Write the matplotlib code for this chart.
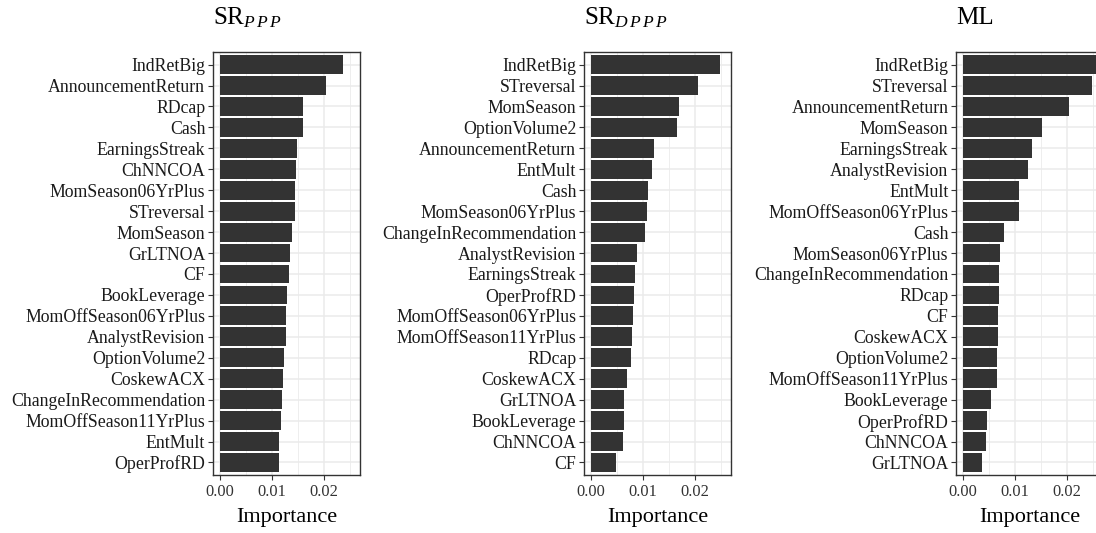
import matplotlib
matplotlib.use("Agg")
import matplotlib.pyplot as plt
from matplotlib.ticker import MultipleLocator

plt.rcParams['font.family'] = ['Liberation Serif', 'DejaVu Serif']
plt.rcParams['mathtext.fontset'] = 'custom'
plt.rcParams['mathtext.rm'] = 'Liberation Serif'
plt.rcParams['mathtext.it'] = 'Liberation Serif:italic'

# feature importance, top 20 per model (ordered high -> low)
ppp_names = ["IndRetBig", "AnnouncementReturn", "RDcap", "Cash", "EarningsStreak",
             "ChNNCOA", "MomSeason06YrPlus", "STreversal", "MomSeason", "GrLTNOA",
             "CF", "BookLeverage", "MomOffSeason06YrPlus", "AnalystRevision",
             "OptionVolume2", "CoskewACX", "ChangeInRecommendation",
             "MomOffSeason11YrPlus", "EntMult", "OperProfRD"]
ppp_vals = [0.0236, 0.0203, 0.0159, 0.0159, 0.0149, 0.0147, 0.0145, 0.0145, 0.0139,
            0.0135, 0.0132, 0.0130, 0.0128, 0.0128, 0.0124, 0.0122, 0.0120, 0.0118,
            0.0114, 0.0114]

dppp_names = ["IndRetBig", "STreversal", "MomSeason", "OptionVolume2",
              "AnnouncementReturn", "EntMult", "Cash", "MomSeason06YrPlus",
              "ChangeInRecommendation", "AnalystRevision", "EarningsStreak",
              "OperProfRD", "MomOffSeason06YrPlus", "MomOffSeason11YrPlus", "RDcap",
              "CoskewACX", "GrLTNOA", "BookLeverage", "ChNNCOA", "CF"]
dppp_vals = [0.0248, 0.0205, 0.0170, 0.0166, 0.0122, 0.0118, 0.0110, 0.0108, 0.0105,
             0.0089, 0.0085, 0.0083, 0.0081, 0.0079, 0.0077, 0.0070, 0.0064, 0.0064,
             0.0062, 0.0048]

ml_names = ["IndRetBig", "STreversal", "AnnouncementReturn", "MomSeason",
            "EarningsStreak", "AnalystRevision", "EntMult", "MomOffSeason06YrPlus",
            "Cash", "MomSeason06YrPlus", "ChangeInRecommendation", "RDcap", "CF",
            "CoskewACX", "OptionVolume2", "MomOffSeason11YrPlus", "BookLeverage",
            "OperProfRD", "ChNNCOA", "GrLTNOA"]
ml_vals = [0.0256, 0.0248, 0.0204, 0.0152, 0.0132, 0.0126, 0.0107, 0.0107, 0.0080,
           0.0072, 0.0070, 0.0070, 0.0068, 0.0068, 0.0065, 0.0065, 0.0055, 0.0047,
           0.0045, 0.0037]

titles = ["SR$_{P\\,P\\,P}$", "SR$_{D\\,P\\,P\\,P}$", "ML"]

panels = [(ppp_names, ppp_vals), (dppp_names, dppp_vals), (ml_names, ml_vals)]
xmax = max(max(v) for _, v in panels)

fig = plt.figure(figsize=(10.96, 5.33), dpi=100)
lefts = [0.1943, 0.5328, 0.8723]

for (names, vals), title, left in zip(panels, titles, lefts):
    ax = fig.add_axes([left, 0.1088, 0.1341, 0.7936])
    n = len(names)
    ypos = list(range(n, 0, -1))
    ax.barh(ypos, vals, height=0.9, color='#333333', zorder=3)
    ax.set_yticks(ypos)
    ax.set_yticklabels(names, fontsize=12.8, color='#1a1a1a')
    ax.set_ylim(0.4, n + 0.6)
    ax.set_xlim(-0.05 * xmax, 1.05 * xmax)
    ax.xaxis.set_major_locator(MultipleLocator(0.01))
    ax.xaxis.set_minor_locator(MultipleLocator(0.005))
    ax.xaxis.set_major_formatter(plt.FuncFormatter(lambda x, p: f"{x:.2f}"))
    ax.tick_params(axis='x', labelsize=11.8, labelcolor='#333333', color='#333333',
                   length=3.5, width=0.8, pad=3)
    ax.tick_params(axis='y', color='#333333', length=3.5, width=0.8, pad=2)
    ax.tick_params(axis='x', which='minor', length=0)
    ax.grid(True, which='major', color='#EBEBEB', linewidth=1.1, zorder=0)
    ax.grid(True, which='minor', axis='x', color='#EBEBEB', linewidth=0.6, zorder=0)
    ax.set_axisbelow(True)
    for s in ax.spines.values():
        s.set_color('#333333')
        s.set_linewidth(1.0)
    ax.set_xlabel("Importance", fontsize=16, labelpad=6)
    ax.set_title(title, fontsize=18, loc='left', pad=20)

fig.savefig("out.png", dpi=100)
